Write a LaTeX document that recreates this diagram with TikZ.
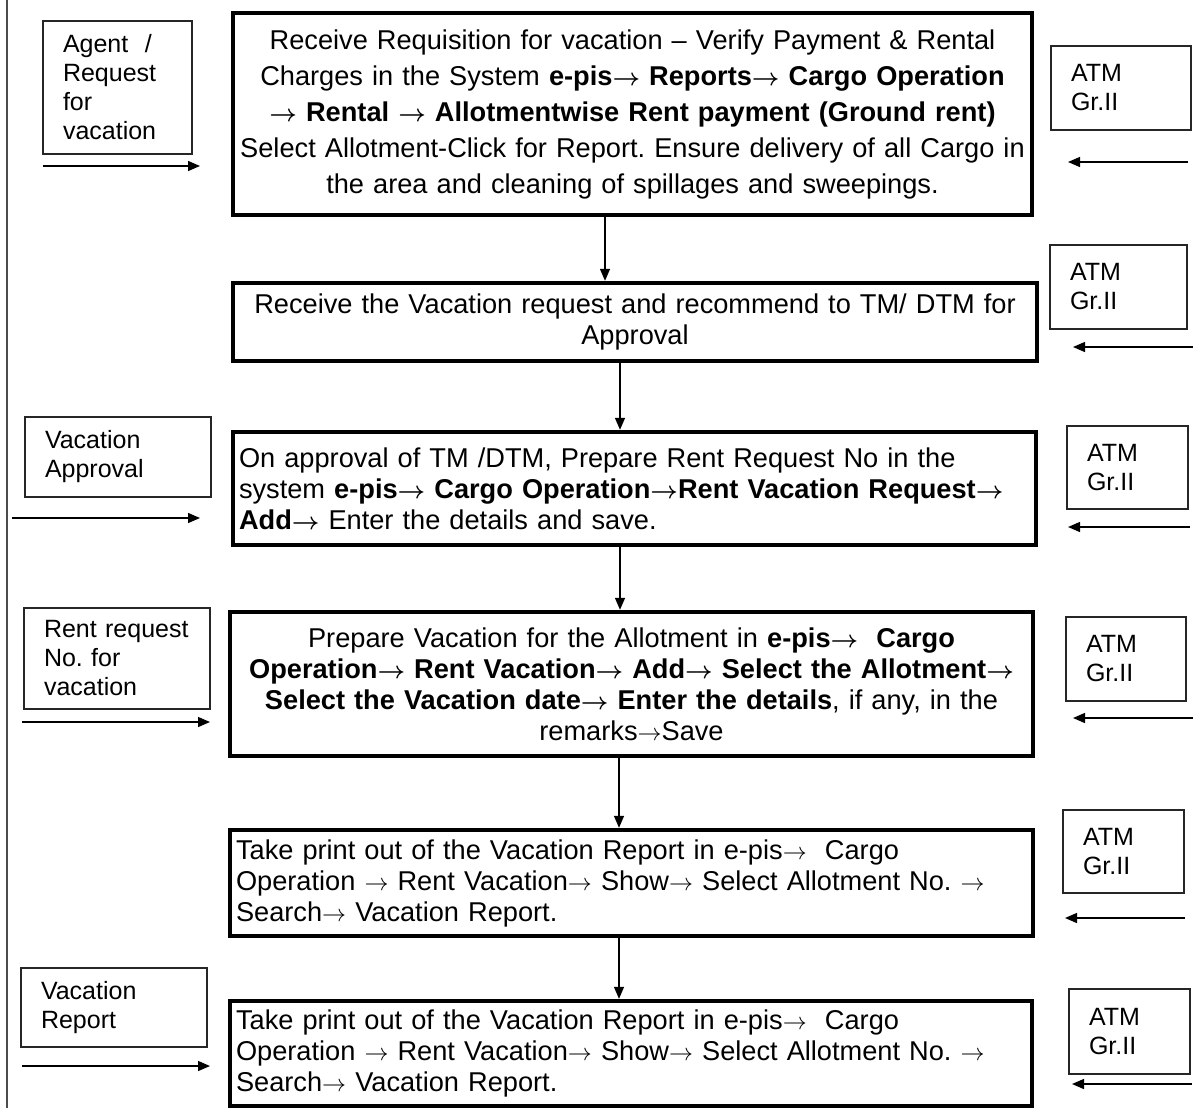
\documentclass[tikz,border=0pt]{standalone}
\usepackage{fontspec}
\setmainfont{Liberation Sans}
\newcommand{\toarr}{{\fontsize{12}{12}\selectfont$\rightarrow$}}
\newcommand{\toarrb}{{\fontsize{12}{12}\selectfont\boldmath$\rightarrow$}}
\frenchspacing
\usepackage{tikz}
\usetikzlibrary{arrows.meta,positioning}

\begin{document}
\begin{tikzpicture}[
    x=0.5pt, y=-0.5pt,
    stage/.style={rectangle, draw=black, line width=2.2pt, inner xsep=3pt, inner ysep=0pt, font=\fontsize{13.6}{15.5}\selectfont},
    side/.style={rectangle, draw=black!85, line width=0.7pt, align=left, inner xsep=10pt, inner ysep=0pt, font=\fontsize{12.5}{14.5}\selectfont},
    flow/.style={-{Triangle[length=6pt, width=5pt]}, line width=0.7pt, draw=black}
  ]
    \useasboundingbox (0,0) rectangle (1198,1108);
    \draw[black!70, line width=0.6pt] (7,0) -- (7,1108);

    % main process boxes
    \node[stage, align=center, minimum width=399.5pt, minimum height=101pt, text width=393.5pt, font=\fontsize{13.6}{18}\selectfont] (req) at (632.5,114)
      {Receive Requisition for vacation -- Verify Payment \& Rental\\
       Charges in the System \textbf{e-pis\toarrb\ Reports\toarrb\ Cargo Operation}\\
       \textbf{\toarrb\ Rental \toarrb\ Allotmentwise Rent payment (Ground rent)}\\
       Select Allotment-Click for Report. Ensure delivery of all Cargo in\\
       the area and cleaning of spillages and sweepings.};
    \node[stage, align=center, minimum width=402pt, minimum height=39pt, text width=396pt] (recom) at (635,322)
      {Receive the Vacation request and recommend to TM/ DTM for\\ Approval};
    \node[stage, align=left, minimum width=401.5pt, minimum height=56.5pt, text width=395.5pt] (rentno) at (634.5,488.5)
      {On approval of TM /DTM, Prepare Rent Request No in the\\
       system \textbf{e-pis\toarrb\ Cargo Operation\toarrb Rent Vacation Request\toarrb}\\
       \textbf{Add\toarrb} Enter the details and save.};
    \node[stage, align=center, minimum width=401.5pt, minimum height=72pt, text width=395.5pt] (prep) at (631.5,684)
      {Prepare Vacation for the Allotment in \textbf{e-pis\toarrb\ \ Cargo}\\
       \textbf{Operation\toarrb\ Rent Vacation\toarrb\ Add\toarrb\ Select the Allotment\toarrb}\\
       \textbf{Select the Vacation date\toarrb\ Enter the details}, if any, in the\\
       remarks\toarr Save};
    \node[stage, align=left, minimum width=401.5pt, minimum height=53pt, text width=395.5pt] (print) at (631.5,883)
      {Take print out of the Vacation Report in e-pis\toarr\ \ Cargo\\
       Operation \toarr\ Rent Vacation\toarr\ Show\toarr\ Select Allotment No. \toarr\\
       Search\toarr\ Vacation Report.};
    \node[stage, align=left, minimum width=401pt, minimum height=52.5pt, text width=395pt] (report) at (631,1053.5)
      {Take print out of the Vacation Report in e-pis\toarr\ \ Cargo\\
       Operation \toarr\ Rent Vacation\toarr\ Show\toarr\ Select Allotment No. \toarr\\
       Search\toarr\ Vacation Report.};

    % inputs on the left
    \node[side, minimum width=74.5pt, minimum height=66.5pt, text width=54.5pt] (agent) at (117.5,87.5)
      {Agent \ /\\ Request\\ for\\ vacation};
    \node[side, minimum width=93pt, minimum height=40pt, text width=73pt] (apprv) at (118,457)
      {Vacation\\ Approval};
    \node[side, minimum width=93pt, minimum height=50.5pt, text width=73pt] (rentreq) at (117,658.5)
      {Rent request\\ No. for\\ vacation};
    \node[side, minimum width=93pt, minimum height=39.5pt, text width=73pt] (vrep) at (114,1007.5)
      {Vacation\\ Report};

    % responsibility on the right
    \node[side, minimum width=70pt, minimum height=42pt, text width=50pt] (atm1) at (1121,88) {ATM\\ Gr.II};
    \node[side, minimum width=68.5pt, minimum height=42pt, text width=48.5pt] (atm2) at (1118.5,287) {ATM\\ Gr.II};
    \node[side, minimum width=60.5pt, minimum height=41.5pt, text width=40.5pt] (atm3) at (1127.5,467.5) {ATM\\ Gr.II};
    \node[side, minimum width=60pt, minimum height=42pt, text width=40pt] (atm4) at (1126,659) {ATM\\ Gr.II};
    \node[side, minimum width=60.5pt, minimum height=41.5pt, text width=40.5pt] (atm5) at (1123.5,851.5) {ATM\\ Gr.II};
    \node[side, minimum width=60.5pt, minimum height=42.5pt, text width=40.5pt] (atm6) at (1129.5,1031.5) {ATM\\ Gr.II};

    % arrow columns and free ends
    \coordinate (col1) at (605,0);
    \coordinate (col2) at (620,0);
    \coordinate (col3) at (619,0);
    \coordinate (agentS) at (43,166);   \coordinate (agentE) at (200,166);
    \coordinate (apprvS) at (12,518);   \coordinate (apprvE) at (200,518);
    \coordinate (rentreqS) at (22,722); \coordinate (rentreqE) at (210,722);
    \coordinate (vrepS) at (22,1066);   \coordinate (vrepE) at (210,1066);
    \coordinate (atm1S) at (1188,162);  \coordinate (atm1E) at (1068,162);
    \coordinate (atm2S) at (1193,347);  \coordinate (atm2E) at (1073,347);
    \coordinate (atm3S) at (1190,527);  \coordinate (atm3E) at (1068,527);
    \coordinate (atm4S) at (1193,718);  \coordinate (atm4E) at (1073,718);
    \coordinate (atm5S) at (1185,918);  \coordinate (atm5E) at (1065,918);
    \coordinate (atm6S) at (1192,1084); \coordinate (atm6E) at (1072,1084);

    \draw[flow] (req.south -| col1) -- (recom.north -| col1);
    \draw[flow] (recom.south -| col2) -- (rentno.north -| col2);
    \draw[flow] (rentno.south -| col2) -- (prep.north -| col2);
    \draw[flow] (prep.south -| col3) -- (print.north -| col3);
    \draw[flow] (print.south -| col3) -- (report.north -| col3);

    \draw[flow] (agentS) -- (agentE);
    \draw[flow] (apprvS) -- (apprvE);
    \draw[flow] (rentreqS) -- (rentreqE);
    \draw[flow] (vrepS) -- (vrepE);
    \draw[flow] (atm1S) -- (atm1E);
    \draw[flow] (atm2S) -- (atm2E);
    \draw[flow] (atm3S) -- (atm3E);
    \draw[flow] (atm4S) -- (atm4E);
    \draw[flow] (atm5S) -- (atm5E);
    \draw[flow] (atm6S) -- (atm6E);
  \end{tikzpicture}
\end{document}
